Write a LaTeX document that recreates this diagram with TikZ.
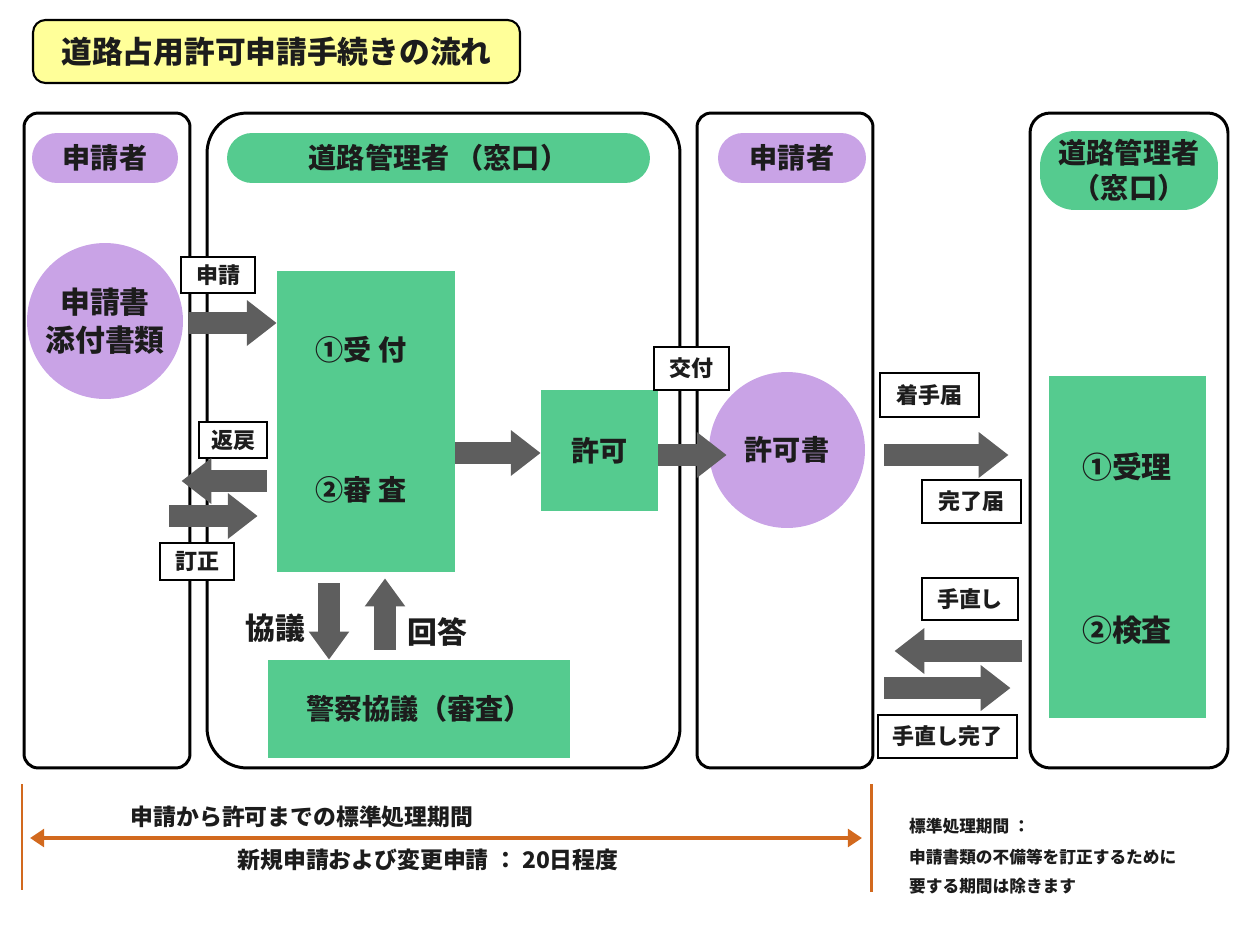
\documentclass[tikz,border=0pt]{standalone}
\usepackage{fontspec}
\setmainfont{Noto Sans CJK JP}
\usetikzlibrary{arrows.meta}
\definecolor{ppl}{HTML}{C9A3E6}
\definecolor{grn}{HTML}{55CB8F}
\definecolor{ttl}{HTML}{FFFF99}
\definecolor{org}{HTML}{D2691E}
\definecolor{arr}{HTML}{5E5E5E}
\definecolor{ink}{HTML}{1C1C1C}
\newcommand{\fs}[1]{\fontsize{#1}{#1}\selectfont\bfseries}

\begin{document}
\begin{tikzpicture}[x=0.02cm, y=-0.02cm, text=ink,
	col/.style={draw, line width=1.7pt, inner sep=0pt},
	pill/.style={rounded corners=0.5cm, minimum height=1cm, inner sep=0pt, font=\fs{16}},
	doc/.style={circle, fill=ppl, minimum size=3.12cm, inner sep=0pt, font=\fs{17}, align=center},
	gbox/.style={fill=grn, inner sep=0pt, font=\fs{16}},
	lbl/.style={draw, fill=white, line width=0.8pt, inner sep=0pt, font=\fs{12.5}},
	fat/.style={arr, line width=12.5pt, -{Triangle[length=17pt, width=25pt]}},
	tall/.style={arr, line width=12pt, -{Triangle[length=16pt, width=22pt]}}]
		\useasboundingbox (0,0) rectangle (1241,930);
		%title
		\node[draw, line width=1.2pt, fill=ttl, rounded corners=0.25cm, minimum width=9.74cm, minimum height=1.26cm, inner sep=0pt, font=\fs{17.5}] (title) at (276.5,51.5) {道路占用許可申請手続きの流れ};
		%columns
		\node[col, rounded corners=0.28cm, minimum width=3.32cm, minimum height=13.1cm] (c1) at (107,440.5) {};
		\node[col, rounded corners=0.8cm, minimum width=9.46cm, minimum height=13.1cm] (c2) at (443.5,440.5) {};
		\node[col, rounded corners=0.28cm, minimum width=3.52cm, minimum height=13.1cm] (c3) at (785,440.5) {};
		\node[col, rounded corners=0.4cm, minimum width=3.96cm, minimum height=13.1cm] (c4) at (1129,440.5) {};
		%headers
		\node[pill, fill=ppl, minimum width=2.92cm] (hA) at (105,158) {申請者};
		\node[pill, fill=grn, minimum width=8.46cm] (hB) at (438.5,158) {道路管理者 （窓口）};
		\node[pill, fill=ppl, minimum width=2.96cm] (hC) at (792,158) {申請者};
		\node[pill, fill=grn, minimum width=3.56cm, minimum height=1.58cm, rounded corners=0.7cm, align=center, font={\fontsize{16}{20}\selectfont\bfseries}] (hD) at (1129,170.5) {道路管理者\\（窓口）};
		%applicant
		\node[doc, font={\fontsize{17}{21.5}\selectfont\bfseries}] (appl) at (105,321) {申請書\\添付書類};
		%road office
		\node[gbox, minimum width=3.56cm, minimum height=6.02cm] (uke) at (366,421.5) {};
		\node[font=\fs{16}] (uketsuke) at (361,350) {①受 付};
		\node[font=\fs{16}] (shinsa) at (361,490) {②審 査};
		\node[gbox, minimum width=2.34cm, minimum height=2.42cm] (kyoka) at (599.5,450.5) {許可};
		\node[gbox, minimum width=6.04cm, minimum height=1.96cm] (police) at (419,709) {警察協議（審査）};
		\node[font=\fs{17}] (kyogi) at (275,628) {協議};
		\node[font=\fs{17}] (kaito) at (437,632) {回答};
		%permit
		\node[doc, font=\fs{16}] (permit) at (787,450) {許可書};
		%checks
		\node[gbox, minimum width=3.14cm, minimum height=6.84cm] (juri) at (1127.5,547) {};
		\node[font=\fs{17}] (uketori) at (1127,467) {①受理};
		\node[font=\fs{17}] (kensa) at (1127,630) {②検査};
		%labels
		\node[lbl, minimum width=1.48cm, minimum height=0.72cm] (lShinsei) at (218,275) {申請};
		\node[lbl, minimum width=1.36cm, minimum height=0.72cm] (lHenrei) at (233,440) {返戻};
		\node[lbl, minimum width=1.48cm, minimum height=0.74cm] (lTeisei) at (197,561.5) {訂正};
		\node[lbl, minimum width=1.5cm, minimum height=0.86cm] (lKofu) at (691.5,368.5) {交付};
		\node[lbl, minimum width=1.98cm, minimum height=0.88cm] (lChakushu) at (929.5,395) {着手届};
		\node[lbl, minimum width=1.98cm, minimum height=0.86cm] (lKanryo) at (971.5,501.5) {完了届};
		\node[lbl, minimum width=1.92cm, minimum height=0.84cm] (lTenaoshi) at (970,599) {手直し};
		\node[lbl, minimum width=2.78cm, minimum height=0.86cm] (lTenaoshiK) at (947.5,736.5) {手直し完了};
		%arrows
		\draw[fat, shorten <=0.1cm] (appl.east |- 0,323) -- (uke.west |- 0,323);
		\draw[fat, shorten <=0.2cm, shorten >=-0.2cm] (uke.west |- 0,481) -- (c1.east |- 0,481);
		\draw[fat, shorten <=-0.44cm, shorten >=0.38cm] (c1.east |- 0,516) -- (uke.west |- 0,516);
		\draw[fat] (uke.east |- 0,453) -- (kyoka.west |- 0,453);
		\draw[fat, shorten >=-0.36cm] (kyoka.east |- 0,455) -- (permit.west |- 0,455);
		\draw[tall, shorten <=0.22cm] (uke.south -| 329,0) -- (police.north -| 329,0);
		\draw[tall, shorten <=0.2cm, shorten >=0.12cm] (police.north -| 385,0) -- (uke.south -| 385,0);
		\draw[fat, shorten <=0.2cm, shorten >=0.4cm] (c3.east |- 0,455) -- (c4.west |- 0,455);
		\draw[fat, shorten <=0.54cm, shorten >=0.4cm] (juri.west |- 0,651) -- (c3.east |- 0,651);
		\draw[fat, shorten <=0.2cm, shorten >=0.36cm] (c3.east |- 0,688) -- (c4.west |- 0,688);
		%period
		\coordinate (tL) at (22,838);
		\coordinate (tR) at (871,838);
		\draw[org, line width=1.7pt] (22,784) -- (22,890) (871,784) -- (871,892);
		\draw[org, line width=2.8pt, {Triangle[length=8pt, width=10pt]}-{Triangle[length=8pt, width=10pt]}, shorten <=0.16cm, shorten >=0.18cm] (tL) -- (tR);
		\node[font=\fs{13}] (span) at (302,817) {申請から許可までの標準処理期間};
		\node[font=\fs{13}] (days) at (428,860) {新規申請および変更申請 ： 20日程度};
		%note
		\node[anchor=west, font=\fs{9.5}] (n1) at (903,826) {標準処理期間 ：};
		\node[anchor=west, font=\fs{9.5}] (n2) at (903,857) {申請書類の不備等を訂正するために};
		\node[anchor=west, font=\fs{9.5}] (n3) at (903,886) {要する期間は除きます};
		\end{tikzpicture}
\end{document}
